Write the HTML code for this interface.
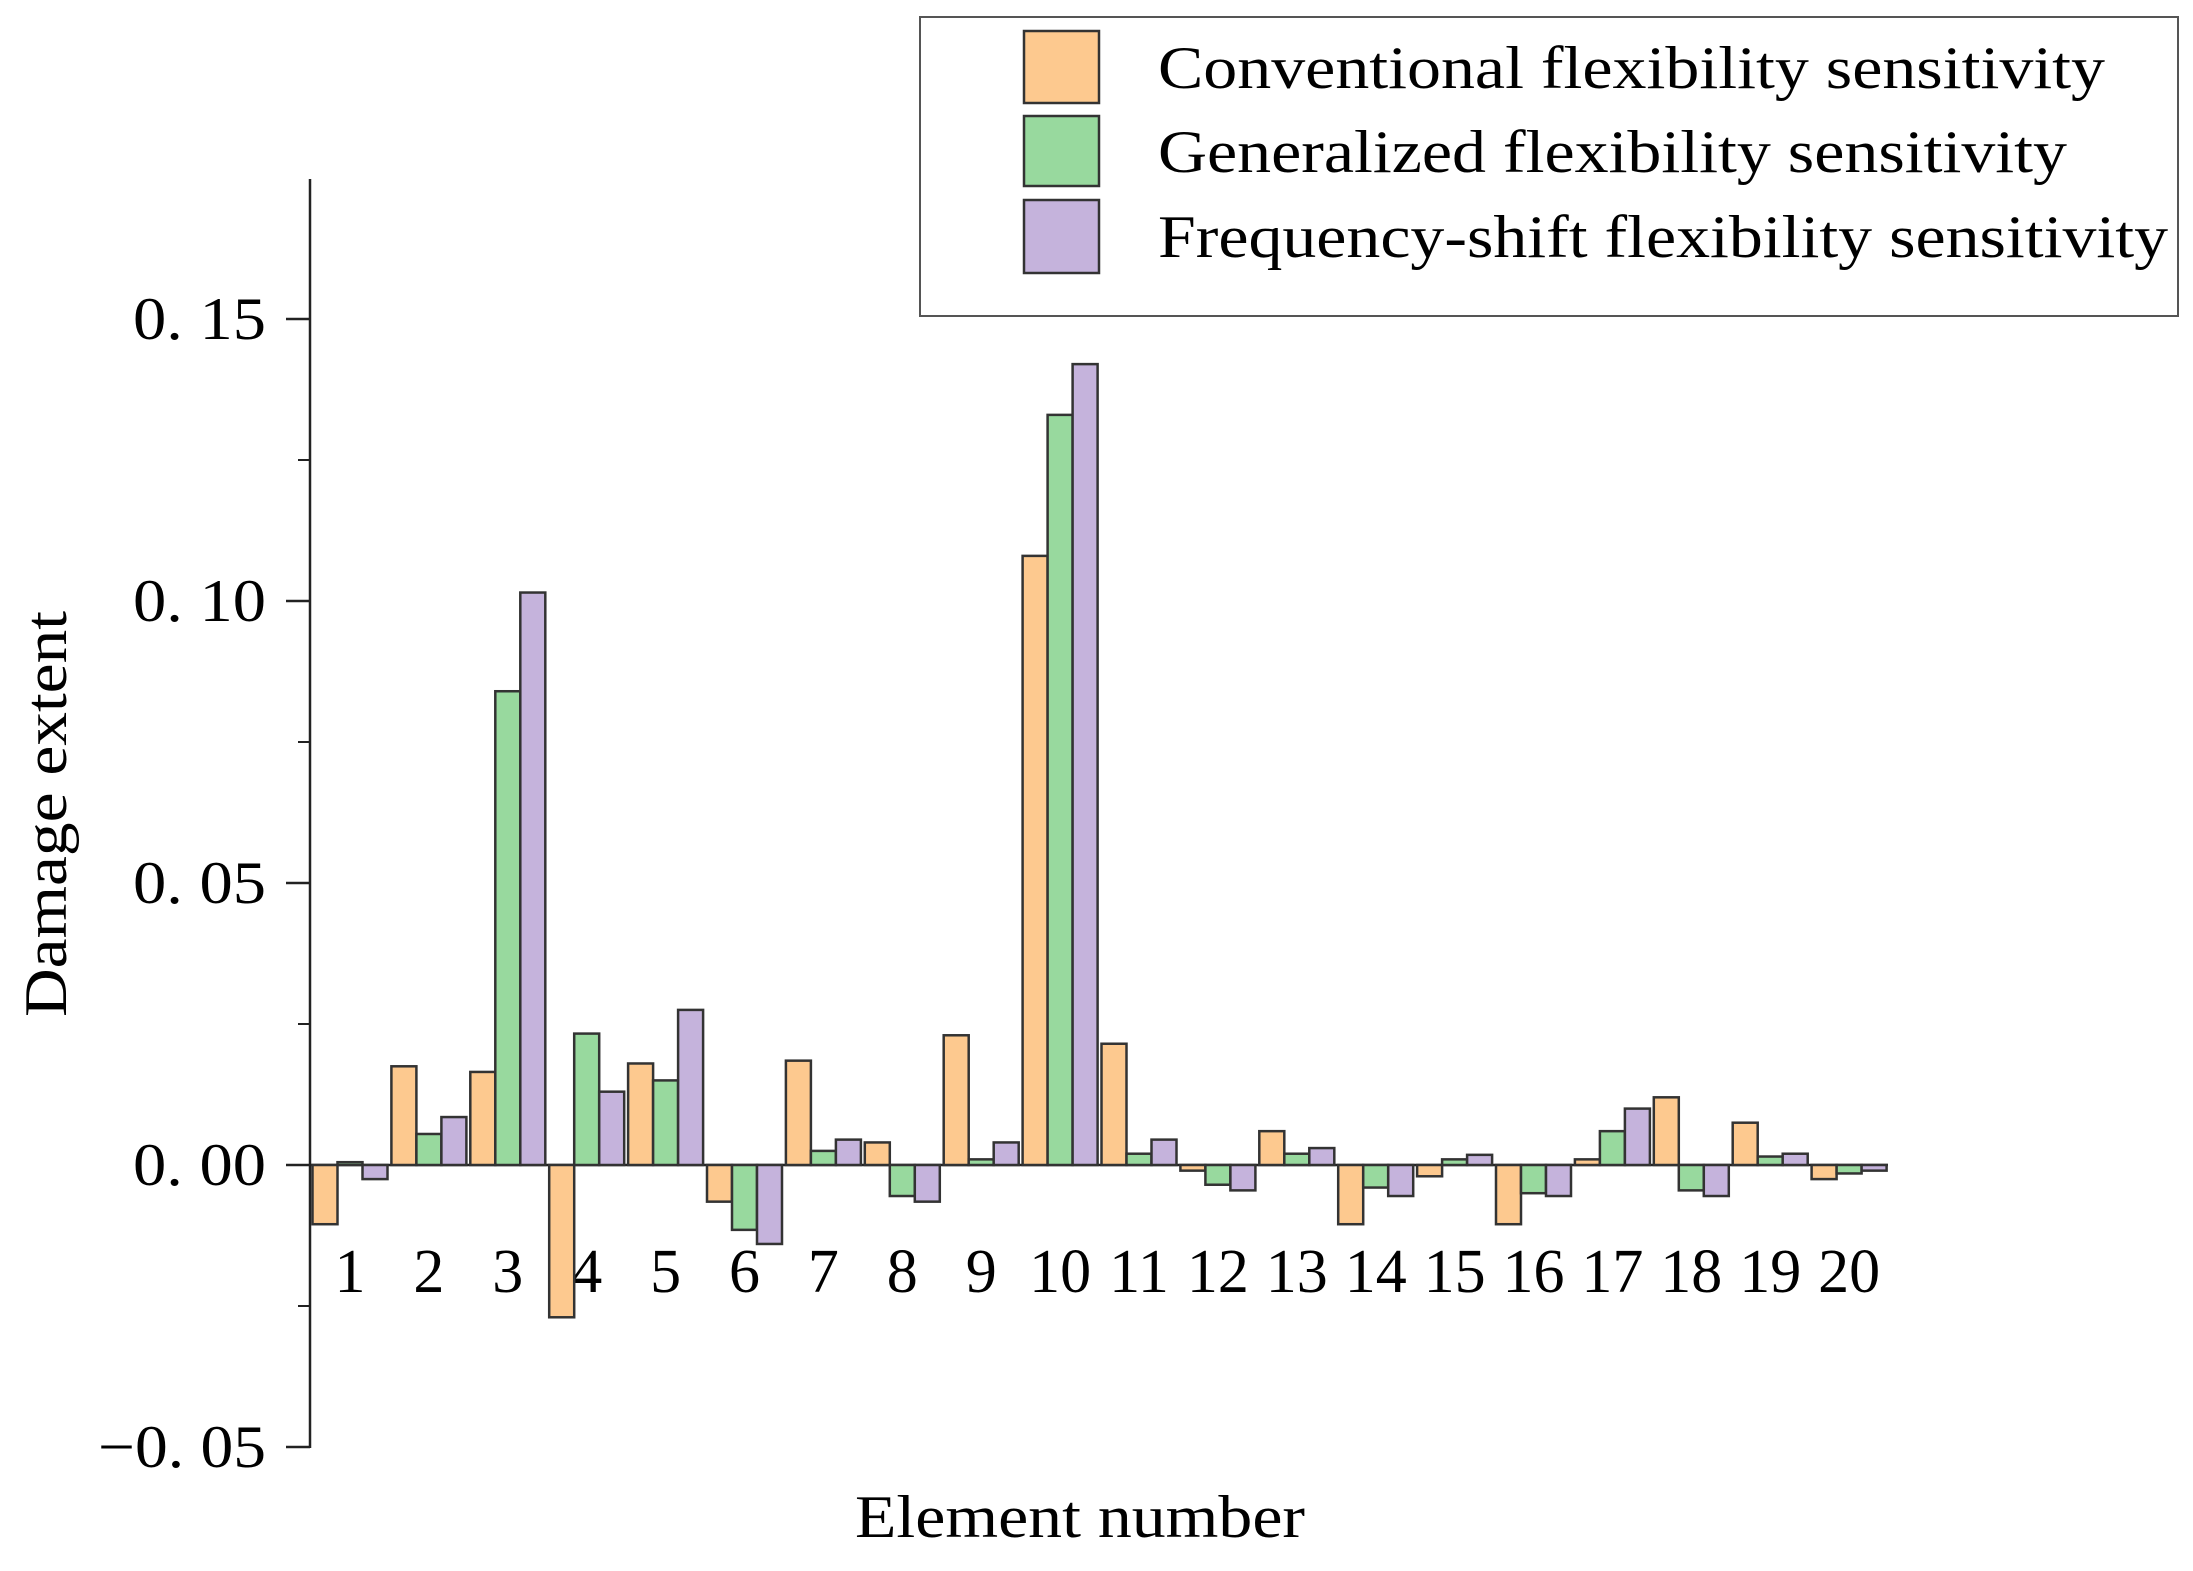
<!DOCTYPE html>
<html><head><meta charset="utf-8">
<style>
html,body{margin:0;padding:0;background:#fff;}
svg{display:block;font-family:"Liberation Serif","Noto Serif CJK SC",serif;}
</style></head>
<body>
<svg id="chart" width="2193" height="1571" viewBox="0 0 2193 1571">
<g id="axes"></g>
<g id="bars"></g>
<text x="855" y="1537" font-size="60" textLength="450" lengthAdjust="spacingAndGlyphs">Element number</text>
<text transform="translate(66,1017) rotate(-90)" font-size="60" textLength="406" lengthAdjust="spacingAndGlyphs">Damage extent</text>
<g>
<rect x="920" y="17" width="1258" height="299" fill="#fff" stroke="#555" stroke-width="2"/>
<rect x="1024" y="31" width="75" height="72" fill="#fdc98f" stroke="#333" stroke-width="2.5"/>
<rect x="1024" y="116" width="75" height="70" fill="#98d99e" stroke="#333" stroke-width="2.5"/>
<rect x="1024" y="200" width="75" height="73" fill="#c5b3dc" stroke="#333" stroke-width="2.5"/>
<text x="1158" y="88" font-size="60" textLength="947" lengthAdjust="spacingAndGlyphs">Conventional flexibility sensitivity</text>
<text x="1158" y="172" font-size="60" textLength="909" lengthAdjust="spacingAndGlyphs">Generalized flexibility sensitivity</text>
<text x="1158" y="257" font-size="60" textLength="1010" lengthAdjust="spacingAndGlyphs">Frequency-shift flexibility sensitivity</text>
</g>
</svg>
<script>
const categories=["1","2","3","4","5","6","7","8","9","10","11","12","13","14","15","16","17","18","19","20"];
const conventional=[-0.0105,0.0175,0.0165,-0.027,0.018,-0.0065,0.0185,0.004,0.023,0.108,0.0215,-0.001,0.006,-0.0105,-0.002,-0.0105,0.001,0.012,0.0075,-0.0025];
const generalized=[0.0005,0.0055,0.084,0.0233,0.015,-0.0115,0.0025,-0.0055,0.001,0.133,0.002,-0.0035,0.002,-0.004,0.001,-0.005,0.006,-0.0045,0.0015,-0.0015];
const frequencyShift=[-0.0025,0.0085,0.1015,0.013,0.0275,-0.014,0.0045,-0.0065,0.004,0.142,0.0045,-0.0045,0.003,-0.0055,0.0018,-0.0055,0.010,-0.0055,0.002,-0.001];
const yTicks=[-0.05,0,0.05,0.10,0.15];
const yTickLabels=["\u22120. 05","0. 00","0. 05","0. 10","0. 15"];
const NS="http://www.w3.org/2000/svg";
const axisX=310, y0=1165, pxPer=282/0.05;
const yScale=v=>y0-v*pxPer;
const xCenter=i=>350+i*78.9;
const barW=25;
const axes=document.getElementById('axes');
const barsG=document.getElementById('bars');
function mk(tag,attrs,parent){const e=document.createElementNS(NS,tag);for(const k in attrs)e.setAttribute(k,attrs[k]);parent.appendChild(e);return e;}
let l=mk('line',{x1:axisX,x2:axisX,y1:179,y2:1448,stroke:'#222','stroke-width':2.5},axes);


yTicks.forEach((v,i)=>{
  const t=mk('line',{x1:axisX-24,x2:axisX,y1:yScale(v),y2:yScale(v),stroke:'#222','stroke-width':2.5},axes);
  
  
  const w=v<0?168:133;
  const tx=mk('text',{x:266-w,y:yScale(v)+20,'font-size':60,textLength:w,lengthAdjust:'spacingAndGlyphs'},axes);
  tx.textContent=yTickLabels[i];
  
  
  if(i<yTicks.length-1){
    const m=mk('line',{x1:axisX-12,x2:axisX,y1:yScale(v+0.025),y2:yScale(v+0.025),stroke:'#222','stroke-width':2},axes);
    
    
  }
});
const series=[[conventional,'#fdc98f','conventional'],[generalized,'#98d99e','generalized'],[frequencyShift,'#c5b3dc','frequency-shift']];
categories.forEach((c,i)=>{
  series.forEach((s,j)=>{
    const v=s[0][i];
    const x=xCenter(i)-1.5*barW+j*barW;
    const y=Math.min(yScale(v),y0), h=Math.max(Math.abs(yScale(v)-y0),1);
    const r=mk('rect',{x:x,y:y,width:barW,height:h,fill:s[1],stroke:'#333','stroke-width':2.5},barsG);
    
    
  });
  const t=mk('text',{x:xCenter(i),y:1292,'font-size':62,'text-anchor':'middle'},axes);
  t.textContent=c;
  
  
});
const z=mk('line',{x1:axisX,x2:1888,y1:y0,y2:y0,stroke:'#222','stroke-width':2.5},axes);


</script>
</body></html>
